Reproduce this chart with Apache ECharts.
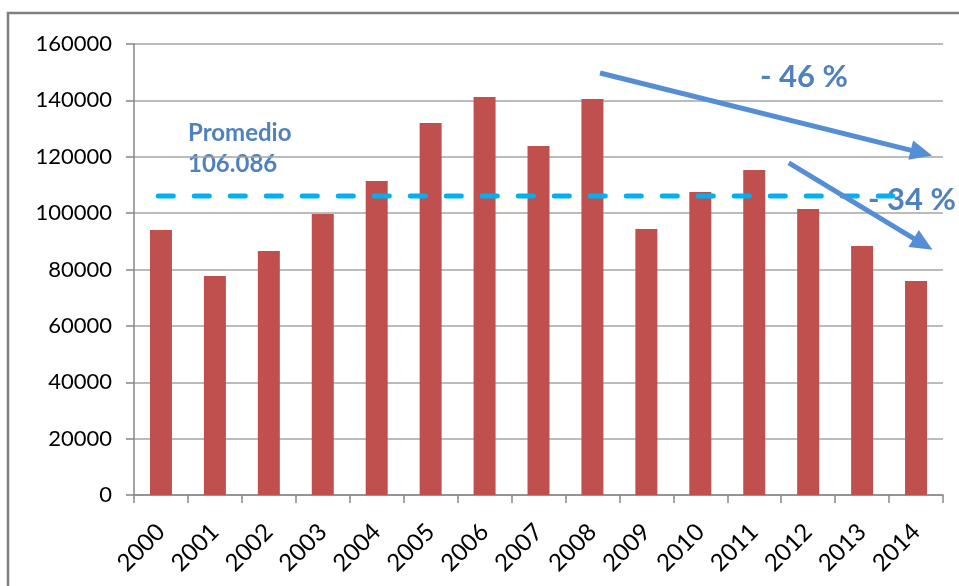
<!DOCTYPE html>
<html>
<head>
<meta charset="utf-8">
<title>Serie 2000-2014</title>
<script src="https://cdn.jsdelivr.net/npm/echarts@6/dist/echarts.min.js"></script>
<style>
  html, body { margin: 0; padding: 0; background: #fff; }
  #chart { width: 959px; height: 586px; }
</style>
</head>
<body>
<div id="chart"></div>
<script>
// Yearly values
const years = ['2000','2001','2002','2003','2004','2005','2006','2007','2008','2009','2010','2011','2012','2013','2014'];
const values = [94000, 77700, 86600, 99700, 111400, 132000, 141200, 123800, 140500, 94400, 107500, 115300, 101500, 88300, 75900];

// Average over the period
const average = 106086;
const averageText = '106.086';

// Y axis ticks
const yTicks = [0, 20000, 40000, 60000, 80000, 100000, 120000, 140000, 160000];

// Trend annotations: start/end in (category index, value)
const trendA = [[8.14, 149700], [14.1, 121400]];
const trendB = [[11.64, 117800], [14.13, 89000]];
const trendLabels = ['- 46 %', '- 34 %'];

const FONT = 'Lato, "Open Sans", sans-serif';
const ARROW = '#558ED5';
const TEXT_BLUE = '#4F81BD';

const chart = echarts.init(document.getElementById('chart'), null, { renderer: 'canvas' });

chart.setOption({
  animation: false,
  backgroundColor: '#ffffff',
  grid: { left: 134, right: 16, top: 44, bottom: 91, containLabel: false },
  xAxis: [
    {
      type: 'category',
      data: years,
      boundaryGap: true,
      axisLine: { onZero: false, lineStyle: { color: '#868686', width: 1.5 } },
      axisTick: { show: true, length: 8, lineStyle: { color: '#868686', width: 1.5 } },
      axisLabel: {
        rotate: 45,
        margin: 33,
        color: '#000',
        fontFamily: FONT,
        fontSize: 24
      }
    },
    {
      type: 'value',
      min: -0.5,
      max: 14.5,
      show: false
    }
  ],
  yAxis: {
    type: 'value',
    min: yTicks[0],
    max: yTicks[yTicks.length - 1],
    interval: yTicks[1] - yTicks[0],
    axisLine: { show: true, onZero: false, lineStyle: { color: '#868686', width: 1.5 } },
    axisTick: { show: true, length: 8, lineStyle: { color: '#868686', width: 1.5 } },
    splitLine: { lineStyle: { color: '#A6A6A6', width: 1.5 } },
    axisLabel: {
      margin: 22,
      color: '#000',
      fontFamily: FONT,
      fontSize: 22,
      formatter: (v) => String(v)
    }
  },
  series: [
    {
      type: 'bar',
      data: values,
      barWidth: 22,
      itemStyle: { color: '#C0504D' },
      silent: true
    },
    {
      type: 'line',
      xAxisIndex: 1,
      data: [[-0.05, average], [13.57, average]],
      symbol: 'none',
      silent: true,
      lineStyle: { color: '#00B0F0', width: 5, type: [15, 21], cap: 'round' },
      markLine: {
        silent: true,
        symbol: ['none', 'triangle'],
        symbolSize: [20, 22],
        label: { show: false },
        lineStyle: { color: ARROW, width: 5, type: 'solid' },
        emphasis: { disabled: true },
        data: [
          [{ coord: trendA[0] }, { coord: trendA[1] }],
          [{ coord: trendB[0] }, { coord: trendB[1] }]
        ]
      }
    }
  ],
  graphic: [
    {
      type: 'rect',
      shape: { x: 8, y: 13, width: 1000, height: 700 },
      style: { fill: 'none', stroke: '#7F7F7F', lineWidth: 2.5 },
      silent: true
    },
    {
      type: 'text',
      left: 188, top: 121,
      style: { text: 'Promedio', font: 'bold 24px ' + FONT, fill: TEXT_BLUE }
    },
    {
      type: 'text',
      left: 188, top: 152,
      style: { text: averageText, font: 'bold 24px ' + FONT, fill: TEXT_BLUE }
    },
    {
      type: 'text',
      left: 760, top: 61,
      style: { text: trendLabels[0], font: 'bold 31px ' + FONT, fill: TEXT_BLUE }
    },
    {
      type: 'text',
      left: 868, top: 184,
      style: { text: trendLabels[1], font: 'bold 31px ' + FONT, fill: TEXT_BLUE }
    }
  ]
});
</script>
</body>
</html>
